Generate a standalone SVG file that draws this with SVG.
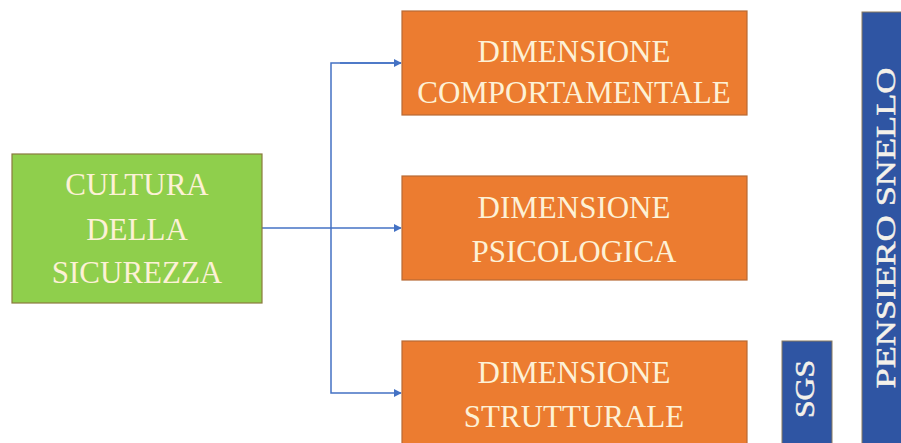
<svg xmlns="http://www.w3.org/2000/svg" width="901" height="443" viewBox="0 0 901 443">
  <defs>
    <marker id="arrow" viewBox="0 0 10 10" refX="9" refY="5" markerWidth="8" markerHeight="8" markerUnits="userSpaceOnUse" orient="auto">
      <path d="M0,0 L10,5 L0,10 z" fill="#4472c4"/>
    </marker>
    <style>
      .label { font-family: "Liberation Serif", "Times New Roman", serif; font-size: 31px; fill: #fdf1d6; text-anchor: middle; }
      .vlabel { font-family: "Liberation Serif", "Times New Roman", serif; font-size: 28px; fill: #f4f1ea; text-anchor: middle; stroke: #f4f1ea; stroke-width: 0.5; }
      .green { fill: #8fcf4c; stroke: #8a7a3e; stroke-width: 1.2; }
      .orange { fill: #ec7c30; stroke: #b86a34; stroke-width: 1.2; }
      .blue { fill: #2f55a3; stroke: #8a7a5e; stroke-width: 1; }
      .wire { fill: none; stroke: #4472c4; stroke-width: 1.5; }
    </style>
  </defs>
  <rect width="901" height="443" fill="#ffffff"/>

  <g id="connectors">
    <line class="wire" x1="262" y1="228" x2="401" y2="228" marker-end="url(#arrow)"/>
    <polyline class="wire" points="401,63 331,63 331,393 401,393" marker-end="url(#arrow)"/>
    <line class="wire" x1="340" y1="63" x2="401" y2="63" marker-end="url(#arrow)"/>
  </g>

  <g id="cultura">
    <rect class="green" x="12" y="154" width="250" height="149"/>
    <text class="label" x="137" y="195">CULTURA</text>
    <text class="label" x="137" y="240">DELLA</text>
    <text class="label" x="137" y="283">SICUREZZA</text>
  </g>

  <g id="comportamentale">
    <rect class="orange" x="402" y="11" width="345" height="104"/>
    <text class="label" x="574" y="62">DIMENSIONE</text>
    <text class="label" x="574" y="103">COMPORTAMENTALE</text>
  </g>

  <g id="psicologica">
    <rect class="orange" x="402" y="176" width="345" height="104"/>
    <text class="label" x="574" y="218">DIMENSIONE</text>
    <text class="label" x="574" y="262">PSICOLOGICA</text>
  </g>

  <g id="strutturale">
    <rect class="orange" x="402" y="341" width="345" height="110"/>
    <text class="label" x="574" y="383">DIMENSIONE</text>
    <text class="label" x="574" y="427">STRUTTURALE</text>
  </g>

  <g id="sgs">
    <rect class="blue" x="782" y="341" width="50" height="110"/>
    <text class="vlabel" transform="translate(814,389) rotate(-90)" x="0" y="0" textLength="58" lengthAdjust="spacingAndGlyphs">SGS</text>
  </g>

  <g id="pensiero">
    <rect class="blue" x="862" y="12" width="50" height="440"/>
    <text class="vlabel" transform="translate(895,228) rotate(-90)" x="0" y="0" textLength="321" lengthAdjust="spacingAndGlyphs">PENSIERO SNELLO</text>
  </g>
</svg>
